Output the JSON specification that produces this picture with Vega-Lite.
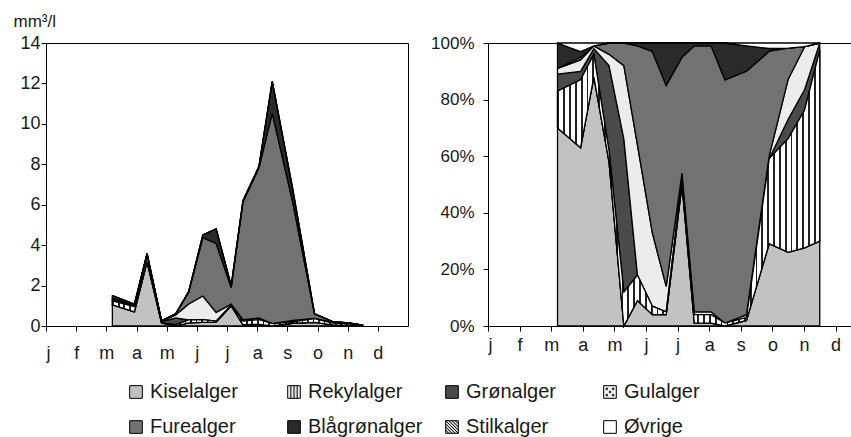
{
  "$schema": "https://vega.github.io/schema/vega-lite/v6.json",
  "background": "white",
  "padding": {"left": 12, "top": 11, "right": 0, "bottom": 0},
  "config": {
    "font": "Liberation Sans",
    "view": {"stroke": "black", "strokeWidth": 1},
    "axis": {
      "labelFont": "Liberation Sans",
      "labelFontSize": 17,
      "labelColor": "#1a1a1a",
      "domainColor": "black",
      "tickColor": "black",
      "tickSize": 5,
      "labelPadding": 3,
      "grid": false,
      "titleFont": "Liberation Sans",
      "titleColor": "#1a1a1a"
    },
    "legend": {
      "orient": "none",
      "direction": "horizontal",
      "legendX": 80,
      "legendY": 339,
      "columns": 4,
      "gridAlign": "all",
      "columnPadding": 19,
      "rowPadding": 15,
      "symbolType": "square",
      "symbolSize": 160,
      "symbolStrokeColor": "black",
      "symbolStrokeWidth": 1,
      "labelFont": "Liberation Sans",
      "labelFontSize": 20,
      "labelColor": "#1a1a1a",
      "labelOffset": 4,
      "labelLimit": 300
    }
  },
  "datasets": {
    "groups": [
      {"g": "Kiselalger", "k": 1},
      {"g": "Rekylalger", "k": 2},
      {"g": "Grønalger", "k": 3},
      {"g": "Gulalger", "k": 4},
      {"g": "Furealger", "k": 5},
      {"g": "Blågrønalger", "k": 6},
      {"g": "Stilkalger", "k": 7},
      {"g": "Øvrige", "k": 8}
    ],
    "d": [
      {"m": 2.2, "Kiselalger": 1.05, "Rekylalger": 0.195, "Grønalger": 0.09, "Gulalger": 0.03, "Furealger": 0, "Blågrønalger": 0.135, "Stilkalger": 0, "Øvrige": 0},
      {"m": 2.93, "Kiselalger": 0.693, "Rekylalger": 0.264, "Grønalger": 0.033, "Gulalger": 0.044, "Furealger": 0.011, "Blågrønalger": 0.022, "Stilkalger": 0, "Øvrige": 0.033},
      {"m": 3.35, "Kiselalger": 3.168, "Rekylalger": 0.288, "Grønalger": 0.072, "Gulalger": 0.036, "Furealger": 0, "Blågrønalger": 0, "Stilkalger": 0, "Øvrige": 0.036},
      {"m": 3.83, "Kiselalger": 0.145, "Rekylalger": 0.01, "Grønalger": 0.075, "Gulalger": 0.01, "Furealger": 0.01, "Blågrønalger": 0, "Stilkalger": 0, "Øvrige": 0},
      {"m": 4.3, "Kiselalger": 0, "Rekylalger": 0.072, "Grønalger": 0.324, "Gulalger": 0.156, "Furealger": 0.048, "Blågrønalger": 0, "Stilkalger": 0, "Øvrige": 0},
      {"m": 4.73, "Kiselalger": 0.153, "Rekylalger": 0.153, "Grønalger": 0, "Gulalger": 0.782, "Furealger": 0.595, "Blågrønalger": 0.017, "Stilkalger": 0, "Øvrige": 0},
      {"m": 5.2, "Kiselalger": 0.18, "Rekylalger": 0.135, "Grønalger": 0, "Gulalger": 1.17, "Furealger": 2.88, "Blågrønalger": 0.135, "Stilkalger": 0, "Øvrige": 0},
      {"m": 5.64, "Kiselalger": 0.192, "Rekylalger": 0.048, "Grønalger": 0, "Gulalger": 0.432, "Furealger": 3.408, "Blågrønalger": 0.72, "Stilkalger": 0, "Øvrige": 0},
      {"m": 6.14, "Kiselalger": 1.0, "Rekylalger": 0.04, "Grønalger": 0, "Gulalger": 0.04, "Furealger": 0.82, "Blågrønalger": 0.1, "Stilkalger": 0, "Øvrige": 0},
      {"m": 6.53, "Kiselalger": 0.062, "Rekylalger": 0.186, "Grønalger": 0, "Gulalger": 0.062, "Furealger": 5.828, "Blågrønalger": 0.062, "Stilkalger": 0, "Øvrige": 0},
      {"m": 7.06, "Kiselalger": 0.079, "Rekylalger": 0.237, "Grønalger": 0, "Gulalger": 0.079, "Furealger": 7.426, "Blågrønalger": 0.079, "Stilkalger": 0, "Øvrige": 0},
      {"m": 7.5, "Kiselalger": 0, "Rekylalger": 0.121, "Grønalger": 0, "Gulalger": 0, "Furealger": 10.406, "Blågrønalger": 1.573, "Stilkalger": 0, "Øvrige": 0},
      {"m": 8.18, "Kiselalger": 0.136, "Rekylalger": 0.068, "Grønalger": 0, "Gulalger": 0.068, "Furealger": 5.848, "Blågrønalger": 0.612, "Stilkalger": 0, "Øvrige": 0.068},
      {"m": 8.9, "Kiselalger": 0.18, "Rekylalger": 0.186, "Grønalger": 0, "Gulalger": 0.006, "Furealger": 0.229, "Blågrønalger": 0.006, "Stilkalger": 0, "Øvrige": 0.012},
      {"m": 9.5, "Kiselalger": 0.057, "Rekylalger": 0.088, "Grønalger": 0.015, "Gulalger": 0.031, "Furealger": 0.024, "Blågrønalger": 0, "Stilkalger": 0, "Øvrige": 0.004},
      {"m": 10.02, "Kiselalger": 0.042, "Rekylalger": 0.074, "Grønalger": 0.011, "Gulalger": 0.023, "Furealger": 0, "Blågrønalger": 0, "Stilkalger": 0, "Øvrige": 0.002},
      {"m": 10.5, "Kiselalger": 0.012, "Rekylalger": 0.027, "Grønalger": 0.001, "Gulalger": 0, "Furealger": 0, "Blågrønalger": 0, "Stilkalger": 0, "Øvrige": 0}
    ]
  },
  "spacing": 80,
  "bounds": "flush",
  "resolve": {"scale": {"color": "shared"}},
  "hconcat": [
    {
      "width": 362,
      "height": 283,
      "data": {"name": "d"},
      "transform": [
        {"fold": ["Kiselalger", "Rekylalger", "Grønalger", "Gulalger", "Furealger", "Blågrønalger", "Stilkalger", "Øvrige"], "as": ["g", "v"]},
        {"lookup": "g", "from": {"data": {"name": "groups"}, "key": "g", "fields": ["k"]}},
        {"stack": "v", "groupby": ["m"], "sort": [{"field": "k", "order": "ascending"}], "as": ["y0", "y1"]}
      ],
      "encoding": {
        "x": {
          "field": "m", "type": "quantitative",
          "scale": {"domain": [0, 12], "nice": false},
          "axis": {"values": [0, 1, 2, 3, 4, 5, 6, 7, 8, 9, 10, 11], "labelExpr": "['j','f','m','a','m','j','j','a','s','o','n','d'][datum.value]", "title": null, "labelFontSize": 18, "labelPadding": 13}
        },
        "y": {
          "field": "y1", "type": "quantitative",
          "scale": {"domain": [0, 14], "nice": false},
          "axis": {"values": [0, 2, 4, 6, 8, 10, 12, 14], "labelFontSize": 18, "labelPadding": 1, "title": "mm³/l", "titleAngle": 0, "titleAlign": "left", "titleBaseline": "alphabetic", "titleX": -33, "titleY": -17, "titleFontSize": 17, "titleFontWeight": "normal"}
        },
        "y2": {"field": "y0"}
      },
      "layer": [
        {
          "mark": {"type": "area", "stroke": "black", "strokeWidth": 1.3, "strokeJoin": "miter", "interpolate": "linear"},
          "encoding": {
            "color": {
              "field": "g", "type": "nominal",
              "scale": {
                "domain": ["Kiselalger", "Rekylalger", "Grønalger", "Gulalger", "Furealger", "Blågrønalger", "Stilkalger", "Øvrige"],
                "range": ["#c2c2c2", "#e8e8e8", "#4a4a4a", "#ececec", "#727272", "#2a2a2a", "#dcdcdc", "#ffffff"]
              },
              "legend": {
                "title": null,
                "encode": {
                  "symbols": {
                    "update": {
                      "stroke": {"value": "black"},
                      "strokeWidth": {"value": 1},
                      "shape": [
                        {"test": "datum.value === 'Rekylalger'", "value": "M-1,-1H1V1H-1Z M-0.5,-1V1 M0,-1V1 M0.5,-1V1"},
                        {"test": "datum.value === 'Stilkalger'", "value": "M-1,-1H1V1H-1Z M-1,0.5L-0.5,1 M-1,0L0,1 M-1,-0.5L0.5,1 M-1,-1L1,1 M-0.5,-1L1,0.5 M0,-1L1,0 M0.5,-1L1,-0.5"},
                        {"test": "datum.value === 'Gulalger'", "value": "M-1,-1H1V1H-1Z M-0.6,-0.6h0.2v0.2h-0.2Z M0.4,-0.6h0.2v0.2h-0.2Z M-0.1,-0.1h0.2v0.2h-0.2Z M-0.6,0.4h0.2v0.2h-0.2Z M0.4,0.4h0.2v0.2h-0.2Z"},
                        {"value": "square"}
                      ]
                    }
                  }
                }
              }
            },
            "detail": {"field": "k", "type": "quantitative"}
          }
        },
        {
          "transform": [{"filter": "datum.g === 'Rekylalger'"}],
          "mark": {"type": "area", "stroke": "black", "strokeWidth": 1.3, "strokeJoin": "miter", "interpolate": "linear",
            "fill": {"gradient": "linear", "x1": 0, "y1": 0, "x2": 1, "y2": 0, "stops": [
              {"offset": 0, "color": "#222"}, {"offset": 0.0067, "color": "#222"}, {"offset": 0.0067, "color": "#fff"}, {"offset": 0.0222, "color": "#fff"},
              {"offset": 0.0222, "color": "#222"}, {"offset": 0.0289, "color": "#222"}, {"offset": 0.0289, "color": "#fff"}, {"offset": 0.0444, "color": "#fff"},
              {"offset": 0.0444, "color": "#222"}, {"offset": 0.0511, "color": "#222"}, {"offset": 0.0511, "color": "#fff"}, {"offset": 0.0667, "color": "#fff"},
              {"offset": 0.0667, "color": "#222"}, {"offset": 0.0734, "color": "#222"}, {"offset": 0.0734, "color": "#fff"}, {"offset": 0.0889, "color": "#fff"},
              {"offset": 0.0889, "color": "#222"}, {"offset": 0.0956, "color": "#222"}, {"offset": 0.0956, "color": "#fff"}, {"offset": 0.1111, "color": "#fff"},
              {"offset": 0.1111, "color": "#222"}, {"offset": 0.1178, "color": "#222"}, {"offset": 0.1178, "color": "#fff"}, {"offset": 0.1333, "color": "#fff"},
              {"offset": 0.1333, "color": "#222"}, {"offset": 0.14, "color": "#222"}, {"offset": 0.14, "color": "#fff"}, {"offset": 0.1556, "color": "#fff"},
              {"offset": 0.1556, "color": "#222"}, {"offset": 0.1623, "color": "#222"}, {"offset": 0.1623, "color": "#fff"}, {"offset": 0.1778, "color": "#fff"},
              {"offset": 0.1778, "color": "#222"}, {"offset": 0.1845, "color": "#222"}, {"offset": 0.1845, "color": "#fff"}, {"offset": 0.2, "color": "#fff"},
              {"offset": 0.2, "color": "#222"}, {"offset": 0.2067, "color": "#222"}, {"offset": 0.2067, "color": "#fff"}, {"offset": 0.2222, "color": "#fff"},
              {"offset": 0.2222, "color": "#222"}, {"offset": 0.2289, "color": "#222"}, {"offset": 0.2289, "color": "#fff"}, {"offset": 0.2444, "color": "#fff"},
              {"offset": 0.2444, "color": "#222"}, {"offset": 0.2511, "color": "#222"}, {"offset": 0.2511, "color": "#fff"}, {"offset": 0.2667, "color": "#fff"},
              {"offset": 0.2667, "color": "#222"}, {"offset": 0.2734, "color": "#222"}, {"offset": 0.2734, "color": "#fff"}, {"offset": 0.2889, "color": "#fff"},
              {"offset": 0.2889, "color": "#222"}, {"offset": 0.2956, "color": "#222"}, {"offset": 0.2956, "color": "#fff"}, {"offset": 0.3111, "color": "#fff"},
              {"offset": 0.3111, "color": "#222"}, {"offset": 0.3178, "color": "#222"}, {"offset": 0.3178, "color": "#fff"}, {"offset": 0.3333, "color": "#fff"},
              {"offset": 0.3333, "color": "#222"}, {"offset": 0.34, "color": "#222"}, {"offset": 0.34, "color": "#fff"}, {"offset": 0.3556, "color": "#fff"},
              {"offset": 0.3556, "color": "#222"}, {"offset": 0.3623, "color": "#222"}, {"offset": 0.3623, "color": "#fff"}, {"offset": 0.3778, "color": "#fff"},
              {"offset": 0.3778, "color": "#222"}, {"offset": 0.3845, "color": "#222"}, {"offset": 0.3845, "color": "#fff"}, {"offset": 0.4, "color": "#fff"},
              {"offset": 0.4, "color": "#222"}, {"offset": 0.4067, "color": "#222"}, {"offset": 0.4067, "color": "#fff"}, {"offset": 0.4222, "color": "#fff"},
              {"offset": 0.4222, "color": "#222"}, {"offset": 0.4289, "color": "#222"}, {"offset": 0.4289, "color": "#fff"}, {"offset": 0.4444, "color": "#fff"},
              {"offset": 0.4444, "color": "#222"}, {"offset": 0.4511, "color": "#222"}, {"offset": 0.4511, "color": "#fff"}, {"offset": 0.4667, "color": "#fff"},
              {"offset": 0.4667, "color": "#222"}, {"offset": 0.4734, "color": "#222"}, {"offset": 0.4734, "color": "#fff"}, {"offset": 0.4889, "color": "#fff"},
              {"offset": 0.4889, "color": "#222"}, {"offset": 0.4956, "color": "#222"}, {"offset": 0.4956, "color": "#fff"}, {"offset": 0.5111, "color": "#fff"},
              {"offset": 0.5111, "color": "#222"}, {"offset": 0.5178, "color": "#222"}, {"offset": 0.5178, "color": "#fff"}, {"offset": 0.5333, "color": "#fff"},
              {"offset": 0.5333, "color": "#222"}, {"offset": 0.54, "color": "#222"}, {"offset": 0.54, "color": "#fff"}, {"offset": 0.5556, "color": "#fff"},
              {"offset": 0.5556, "color": "#222"}, {"offset": 0.5623, "color": "#222"}, {"offset": 0.5623, "color": "#fff"}, {"offset": 0.5778, "color": "#fff"},
              {"offset": 0.5778, "color": "#222"}, {"offset": 0.5845, "color": "#222"}, {"offset": 0.5845, "color": "#fff"}, {"offset": 0.6, "color": "#fff"},
              {"offset": 0.6, "color": "#222"}, {"offset": 0.6067, "color": "#222"}, {"offset": 0.6067, "color": "#fff"}, {"offset": 0.6222, "color": "#fff"},
              {"offset": 0.6222, "color": "#222"}, {"offset": 0.6289, "color": "#222"}, {"offset": 0.6289, "color": "#fff"}, {"offset": 0.6444, "color": "#fff"},
              {"offset": 0.6444, "color": "#222"}, {"offset": 0.6511, "color": "#222"}, {"offset": 0.6511, "color": "#fff"}, {"offset": 0.6667, "color": "#fff"},
              {"offset": 0.6667, "color": "#222"}, {"offset": 0.6734, "color": "#222"}, {"offset": 0.6734, "color": "#fff"}, {"offset": 0.6889, "color": "#fff"},
              {"offset": 0.6889, "color": "#222"}, {"offset": 0.6956, "color": "#222"}, {"offset": 0.6956, "color": "#fff"}, {"offset": 0.7111, "color": "#fff"},
              {"offset": 0.7111, "color": "#222"}, {"offset": 0.7178, "color": "#222"}, {"offset": 0.7178, "color": "#fff"}, {"offset": 0.7333, "color": "#fff"},
              {"offset": 0.7333, "color": "#222"}, {"offset": 0.74, "color": "#222"}, {"offset": 0.74, "color": "#fff"}, {"offset": 0.7556, "color": "#fff"},
              {"offset": 0.7556, "color": "#222"}, {"offset": 0.7623, "color": "#222"}, {"offset": 0.7623, "color": "#fff"}, {"offset": 0.7778, "color": "#fff"},
              {"offset": 0.7778, "color": "#222"}, {"offset": 0.7845, "color": "#222"}, {"offset": 0.7845, "color": "#fff"}, {"offset": 0.8, "color": "#fff"},
              {"offset": 0.8, "color": "#222"}, {"offset": 0.8067, "color": "#222"}, {"offset": 0.8067, "color": "#fff"}, {"offset": 0.8222, "color": "#fff"},
              {"offset": 0.8222, "color": "#222"}, {"offset": 0.8289, "color": "#222"}, {"offset": 0.8289, "color": "#fff"}, {"offset": 0.8444, "color": "#fff"},
              {"offset": 0.8444, "color": "#222"}, {"offset": 0.8511, "color": "#222"}, {"offset": 0.8511, "color": "#fff"}, {"offset": 0.8667, "color": "#fff"},
              {"offset": 0.8667, "color": "#222"}, {"offset": 0.8734, "color": "#222"}, {"offset": 0.8734, "color": "#fff"}, {"offset": 0.8889, "color": "#fff"},
              {"offset": 0.8889, "color": "#222"}, {"offset": 0.8956, "color": "#222"}, {"offset": 0.8956, "color": "#fff"}, {"offset": 0.9111, "color": "#fff"},
              {"offset": 0.9111, "color": "#222"}, {"offset": 0.9178, "color": "#222"}, {"offset": 0.9178, "color": "#fff"}, {"offset": 0.9333, "color": "#fff"},
              {"offset": 0.9333, "color": "#222"}, {"offset": 0.94, "color": "#222"}, {"offset": 0.94, "color": "#fff"}, {"offset": 0.9556, "color": "#fff"},
              {"offset": 0.9556, "color": "#222"}, {"offset": 0.9623, "color": "#222"}, {"offset": 0.9623, "color": "#fff"}, {"offset": 0.9778, "color": "#fff"},
              {"offset": 0.9778, "color": "#222"}, {"offset": 0.9845, "color": "#222"}, {"offset": 0.9845, "color": "#fff"}, {"offset": 1, "color": "#fff"}
            ]}
          },
          "encoding": {}
        }
      ]
    },
    {
      "width": 364,
      "height": 283,
      "data": {"name": "d"},
      "transform": [
        {"fold": ["Kiselalger", "Rekylalger", "Grønalger", "Gulalger", "Furealger", "Blågrønalger", "Stilkalger", "Øvrige"], "as": ["g", "v"]},
        {"lookup": "g", "from": {"data": {"name": "groups"}, "key": "g", "fields": ["k"]}},
        {"stack": "v", "groupby": ["m"], "sort": [{"field": "k", "order": "ascending"}], "offset": "normalize", "as": ["y0", "y1"]}
      ],
      "encoding": {
        "x": {
          "field": "m", "type": "quantitative",
          "scale": {"domain": [0, 11.52], "nice": false},
          "axis": {"values": [0, 1, 2, 3, 4, 5, 6, 7, 8, 9, 10, 11], "labelExpr": "['j','f','m','a','m','j','j','a','s','o','n','d'][datum.value]", "title": null, "labelFontSize": 18, "labelPadding": 5}
        },
        "y": {
          "field": "y1", "type": "quantitative",
          "scale": {"domain": [0, 1], "nice": false},
          "axis": {"values": [0, 0.2, 0.4, 0.6, 0.8, 1], "format": ".0%", "title": null, "labelPadding": 9}
        },
        "y2": {"field": "y0"}
      },
      "layer": [
        {
          "mark": {"type": "area", "stroke": "black", "strokeWidth": 1.3, "strokeJoin": "miter", "interpolate": "linear"},
          "encoding": {
            "color": {"field": "g", "type": "nominal", "legend": {"title": null}},
            "detail": {"field": "k", "type": "quantitative"}
          }
        },
        {
          "transform": [{"filter": "datum.g === 'Rekylalger'"}],
          "mark": {"type": "area", "stroke": "black", "strokeWidth": 1.3, "strokeJoin": "miter", "interpolate": "linear",
            "fill": {"gradient": "linear", "x1": 0, "y1": 0, "x2": 1, "y2": 0, "stops": [
              {"offset": 0, "color": "#222"}, {"offset": 0.0067, "color": "#222"}, {"offset": 0.0067, "color": "#fff"}, {"offset": 0.0222, "color": "#fff"},
              {"offset": 0.0222, "color": "#222"}, {"offset": 0.0289, "color": "#222"}, {"offset": 0.0289, "color": "#fff"}, {"offset": 0.0444, "color": "#fff"},
              {"offset": 0.0444, "color": "#222"}, {"offset": 0.0511, "color": "#222"}, {"offset": 0.0511, "color": "#fff"}, {"offset": 0.0667, "color": "#fff"},
              {"offset": 0.0667, "color": "#222"}, {"offset": 0.0734, "color": "#222"}, {"offset": 0.0734, "color": "#fff"}, {"offset": 0.0889, "color": "#fff"},
              {"offset": 0.0889, "color": "#222"}, {"offset": 0.0956, "color": "#222"}, {"offset": 0.0956, "color": "#fff"}, {"offset": 0.1111, "color": "#fff"},
              {"offset": 0.1111, "color": "#222"}, {"offset": 0.1178, "color": "#222"}, {"offset": 0.1178, "color": "#fff"}, {"offset": 0.1333, "color": "#fff"},
              {"offset": 0.1333, "color": "#222"}, {"offset": 0.14, "color": "#222"}, {"offset": 0.14, "color": "#fff"}, {"offset": 0.1556, "color": "#fff"},
              {"offset": 0.1556, "color": "#222"}, {"offset": 0.1623, "color": "#222"}, {"offset": 0.1623, "color": "#fff"}, {"offset": 0.1778, "color": "#fff"},
              {"offset": 0.1778, "color": "#222"}, {"offset": 0.1845, "color": "#222"}, {"offset": 0.1845, "color": "#fff"}, {"offset": 0.2, "color": "#fff"},
              {"offset": 0.2, "color": "#222"}, {"offset": 0.2067, "color": "#222"}, {"offset": 0.2067, "color": "#fff"}, {"offset": 0.2222, "color": "#fff"},
              {"offset": 0.2222, "color": "#222"}, {"offset": 0.2289, "color": "#222"}, {"offset": 0.2289, "color": "#fff"}, {"offset": 0.2444, "color": "#fff"},
              {"offset": 0.2444, "color": "#222"}, {"offset": 0.2511, "color": "#222"}, {"offset": 0.2511, "color": "#fff"}, {"offset": 0.2667, "color": "#fff"},
              {"offset": 0.2667, "color": "#222"}, {"offset": 0.2734, "color": "#222"}, {"offset": 0.2734, "color": "#fff"}, {"offset": 0.2889, "color": "#fff"},
              {"offset": 0.2889, "color": "#222"}, {"offset": 0.2956, "color": "#222"}, {"offset": 0.2956, "color": "#fff"}, {"offset": 0.3111, "color": "#fff"},
              {"offset": 0.3111, "color": "#222"}, {"offset": 0.3178, "color": "#222"}, {"offset": 0.3178, "color": "#fff"}, {"offset": 0.3333, "color": "#fff"},
              {"offset": 0.3333, "color": "#222"}, {"offset": 0.34, "color": "#222"}, {"offset": 0.34, "color": "#fff"}, {"offset": 0.3556, "color": "#fff"},
              {"offset": 0.3556, "color": "#222"}, {"offset": 0.3623, "color": "#222"}, {"offset": 0.3623, "color": "#fff"}, {"offset": 0.3778, "color": "#fff"},
              {"offset": 0.3778, "color": "#222"}, {"offset": 0.3845, "color": "#222"}, {"offset": 0.3845, "color": "#fff"}, {"offset": 0.4, "color": "#fff"},
              {"offset": 0.4, "color": "#222"}, {"offset": 0.4067, "color": "#222"}, {"offset": 0.4067, "color": "#fff"}, {"offset": 0.4222, "color": "#fff"},
              {"offset": 0.4222, "color": "#222"}, {"offset": 0.4289, "color": "#222"}, {"offset": 0.4289, "color": "#fff"}, {"offset": 0.4444, "color": "#fff"},
              {"offset": 0.4444, "color": "#222"}, {"offset": 0.4511, "color": "#222"}, {"offset": 0.4511, "color": "#fff"}, {"offset": 0.4667, "color": "#fff"},
              {"offset": 0.4667, "color": "#222"}, {"offset": 0.4734, "color": "#222"}, {"offset": 0.4734, "color": "#fff"}, {"offset": 0.4889, "color": "#fff"},
              {"offset": 0.4889, "color": "#222"}, {"offset": 0.4956, "color": "#222"}, {"offset": 0.4956, "color": "#fff"}, {"offset": 0.5111, "color": "#fff"},
              {"offset": 0.5111, "color": "#222"}, {"offset": 0.5178, "color": "#222"}, {"offset": 0.5178, "color": "#fff"}, {"offset": 0.5333, "color": "#fff"},
              {"offset": 0.5333, "color": "#222"}, {"offset": 0.54, "color": "#222"}, {"offset": 0.54, "color": "#fff"}, {"offset": 0.5556, "color": "#fff"},
              {"offset": 0.5556, "color": "#222"}, {"offset": 0.5623, "color": "#222"}, {"offset": 0.5623, "color": "#fff"}, {"offset": 0.5778, "color": "#fff"},
              {"offset": 0.5778, "color": "#222"}, {"offset": 0.5845, "color": "#222"}, {"offset": 0.5845, "color": "#fff"}, {"offset": 0.6, "color": "#fff"},
              {"offset": 0.6, "color": "#222"}, {"offset": 0.6067, "color": "#222"}, {"offset": 0.6067, "color": "#fff"}, {"offset": 0.6222, "color": "#fff"},
              {"offset": 0.6222, "color": "#222"}, {"offset": 0.6289, "color": "#222"}, {"offset": 0.6289, "color": "#fff"}, {"offset": 0.6444, "color": "#fff"},
              {"offset": 0.6444, "color": "#222"}, {"offset": 0.6511, "color": "#222"}, {"offset": 0.6511, "color": "#fff"}, {"offset": 0.6667, "color": "#fff"},
              {"offset": 0.6667, "color": "#222"}, {"offset": 0.6734, "color": "#222"}, {"offset": 0.6734, "color": "#fff"}, {"offset": 0.6889, "color": "#fff"},
              {"offset": 0.6889, "color": "#222"}, {"offset": 0.6956, "color": "#222"}, {"offset": 0.6956, "color": "#fff"}, {"offset": 0.7111, "color": "#fff"},
              {"offset": 0.7111, "color": "#222"}, {"offset": 0.7178, "color": "#222"}, {"offset": 0.7178, "color": "#fff"}, {"offset": 0.7333, "color": "#fff"},
              {"offset": 0.7333, "color": "#222"}, {"offset": 0.74, "color": "#222"}, {"offset": 0.74, "color": "#fff"}, {"offset": 0.7556, "color": "#fff"},
              {"offset": 0.7556, "color": "#222"}, {"offset": 0.7623, "color": "#222"}, {"offset": 0.7623, "color": "#fff"}, {"offset": 0.7778, "color": "#fff"},
              {"offset": 0.7778, "color": "#222"}, {"offset": 0.7845, "color": "#222"}, {"offset": 0.7845, "color": "#fff"}, {"offset": 0.8, "color": "#fff"},
              {"offset": 0.8, "color": "#222"}, {"offset": 0.8067, "color": "#222"}, {"offset": 0.8067, "color": "#fff"}, {"offset": 0.8222, "color": "#fff"},
              {"offset": 0.8222, "color": "#222"}, {"offset": 0.8289, "color": "#222"}, {"offset": 0.8289, "color": "#fff"}, {"offset": 0.8444, "color": "#fff"},
              {"offset": 0.8444, "color": "#222"}, {"offset": 0.8511, "color": "#222"}, {"offset": 0.8511, "color": "#fff"}, {"offset": 0.8667, "color": "#fff"},
              {"offset": 0.8667, "color": "#222"}, {"offset": 0.8734, "color": "#222"}, {"offset": 0.8734, "color": "#fff"}, {"offset": 0.8889, "color": "#fff"},
              {"offset": 0.8889, "color": "#222"}, {"offset": 0.8956, "color": "#222"}, {"offset": 0.8956, "color": "#fff"}, {"offset": 0.9111, "color": "#fff"},
              {"offset": 0.9111, "color": "#222"}, {"offset": 0.9178, "color": "#222"}, {"offset": 0.9178, "color": "#fff"}, {"offset": 0.9333, "color": "#fff"},
              {"offset": 0.9333, "color": "#222"}, {"offset": 0.94, "color": "#222"}, {"offset": 0.94, "color": "#fff"}, {"offset": 0.9556, "color": "#fff"},
              {"offset": 0.9556, "color": "#222"}, {"offset": 0.9623, "color": "#222"}, {"offset": 0.9623, "color": "#fff"}, {"offset": 0.9778, "color": "#fff"},
              {"offset": 0.9778, "color": "#222"}, {"offset": 0.9845, "color": "#222"}, {"offset": 0.9845, "color": "#fff"}, {"offset": 1, "color": "#fff"}
            ]}
          },
          "encoding": {}
        }
      ]
    }
  ]
}
